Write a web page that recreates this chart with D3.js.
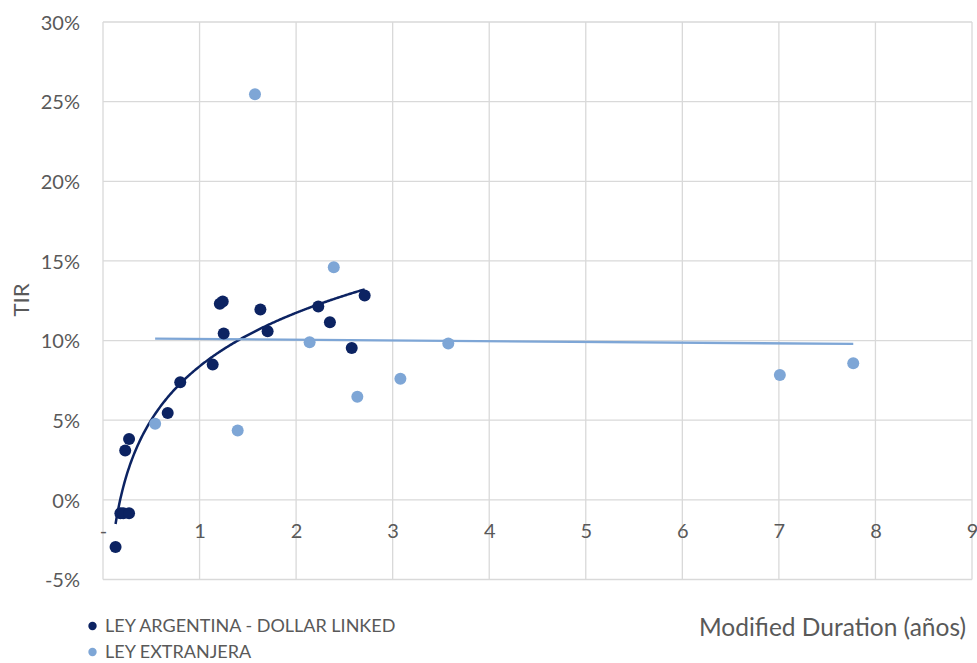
<!DOCTYPE html>
<html>
<head>
<meta charset="utf-8">
<script src="https://cdn.jsdelivr.net/npm/d3@7"></script>
<style>
  html, body { margin: 0; padding: 0; background: #fff; }
  svg { display: block; font-family: Lato, "Open Sans", sans-serif; }
</style>
</head>
<body>
<svg id="chart" width="977" height="663"></svg>
<script>
// ---- data ----
const argDuration = [0.13, 0.18, 0.21, 0.27, 0.23, 0.27, 0.67, 0.80, 1.136, 1.25, 1.21, 1.24, 1.63, 1.705, 2.23, 2.35, 2.576, 2.71];
const argTir      = [-2.96, -0.84, -0.84, -0.84, 3.10, 3.82, 5.45, 7.38, 8.49, 10.44, 12.31, 12.45, 11.95, 10.59, 12.14, 11.15, 9.54, 12.83];
const extDuration = [1.574, 0.54, 1.395, 2.14, 2.39, 2.634, 3.08, 3.576, 7.01, 7.77];
const extTir      = [25.47, 4.78, 4.36, 9.90, 14.61, 6.48, 7.61, 9.81, 7.84, 8.57];
// trend lines as drawn in the reference: log trend (argentina), linear trend (extranjera)
const argTrend = { a: 4.85, b: 8.38 };          // y = a*ln(x) + b
const extTrend = { x0: 0.54, y0: 10.12, x1: 7.77, y1: 9.79 };
const xTicks = [0, 1, 2, 3, 4, 5, 6, 7, 8, 9];
const yTicks = [-5, 0, 5, 10, 15, 20, 25, 30];
const seriesNames = ["LEY ARGENTINA - DOLLAR LINKED", "LEY EXTRANJERA"];
const xTitle = "Modified Duration (años)";
const yTitle = "TIR";

const darkColor = "#0c2362";
const lightColor = "#7ea6d6";
const textColor = "#595959";
const gridColor = "#d9d9d9";

const svg = d3.select("#chart");
const x = d3.scaleLinear().domain([0, 9]).range([103, 972]);
const y = d3.scaleLinear().domain([-5, 30]).range([579.5, 22]);

// gridlines
svg.append("g").selectAll("line.v").data(xTicks).join("line")
  .attr("x1", d => x(d)).attr("x2", d => x(d))
  .attr("y1", y(30)).attr("y2", y(-5))
  .attr("stroke", gridColor).attr("stroke-width", 1.3);
svg.append("g").selectAll("line.h").data(yTicks).join("line")
  .attr("x1", x(0)).attr("x2", x(9))
  .attr("y1", d => y(d)).attr("y2", d => y(d))
  .attr("stroke", gridColor).attr("stroke-width", 1.3);

// y axis labels
const yAxis = d3.axisLeft(y).tickValues(yTicks).tickSize(0).tickPadding(0)
  .tickFormat(d => d + "%");
const gy = svg.append("g").attr("transform", `translate(80,0)`).call(yAxis);
gy.select(".domain").remove();
gy.selectAll("text").attr("fill", textColor).style("font-size", "20px")
  .style("font-family", "Lato, sans-serif").attr("dy", "0.36em");

// x axis labels (at the 0% line)
const xAxis = d3.axisBottom(x).tickValues(xTicks).tickSize(0).tickPadding(0)
  .tickFormat(d => d === 0 ? "-" : d);
const gx = svg.append("g").attr("transform", `translate(0,${y(0) + 22})`).call(xAxis);
gx.select(".domain").remove();
gx.selectAll("text").attr("fill", textColor).style("font-size", "20px")
  .style("font-family", "Lato, sans-serif").attr("dy", "0.36em").attr("y", 9);

// trend lines
const argLine = d3.line().x(d => x(d)).y(d => y(argTrend.a * Math.log(d) + argTrend.b)).curve(d3.curveLinear);
const argXs = d3.range(d3.min(argDuration), d3.max(argDuration) + 1e-9, 0.01);
svg.append("path").datum(argXs).attr("d", argLine)
  .attr("fill", "none").attr("stroke", darkColor).attr("stroke-width", 2.5);

svg.append("line")
  .attr("x1", x(extTrend.x0)).attr("y1", y(extTrend.y0))
  .attr("x2", x(extTrend.x1)).attr("y2", y(extTrend.y1))
  .attr("stroke", lightColor).attr("stroke-width", 2.3);

// points
const extPts = extDuration.map((d, i) => [d, extTir[i]]);
const argPts = argDuration.map((d, i) => [d, argTir[i]]);
svg.append("g").selectAll("circle").data(extPts).join("circle")
  .attr("cx", d => x(d[0])).attr("cy", d => y(d[1])).attr("r", 6)
  .attr("fill", lightColor);
svg.append("g").selectAll("circle").data(argPts).join("circle")
  .attr("cx", d => x(d[0])).attr("cy", d => y(d[1])).attr("r", 6)
  .attr("fill", darkColor);

// axis titles
svg.append("text").attr("transform", "translate(29,300) rotate(-90)")
  .attr("text-anchor", "middle").attr("fill", textColor)
  .style("font-size", "22px").text(yTitle);
svg.append("text").attr("x", 966).attr("y", 636)
  .attr("text-anchor", "end").attr("fill", textColor)
  .style("font-size", "24.5px").text(xTitle);

// legend
const legend = svg.append("g");
const legendColors = [darkColor, lightColor];
const legendY = [626, 652];
seriesNames.forEach((name, i) => {
  legend.append("circle").attr("cx", 92.5).attr("cy", legendY[i]).attr("r", 4.2).attr("fill", legendColors[i]);
  legend.append("text").attr("x", 105).attr("y", legendY[i]).attr("dy", "0.36em")
    .attr("fill", textColor).style("font-size", "18px").text(name);
});
</script>
</body>
</html>
